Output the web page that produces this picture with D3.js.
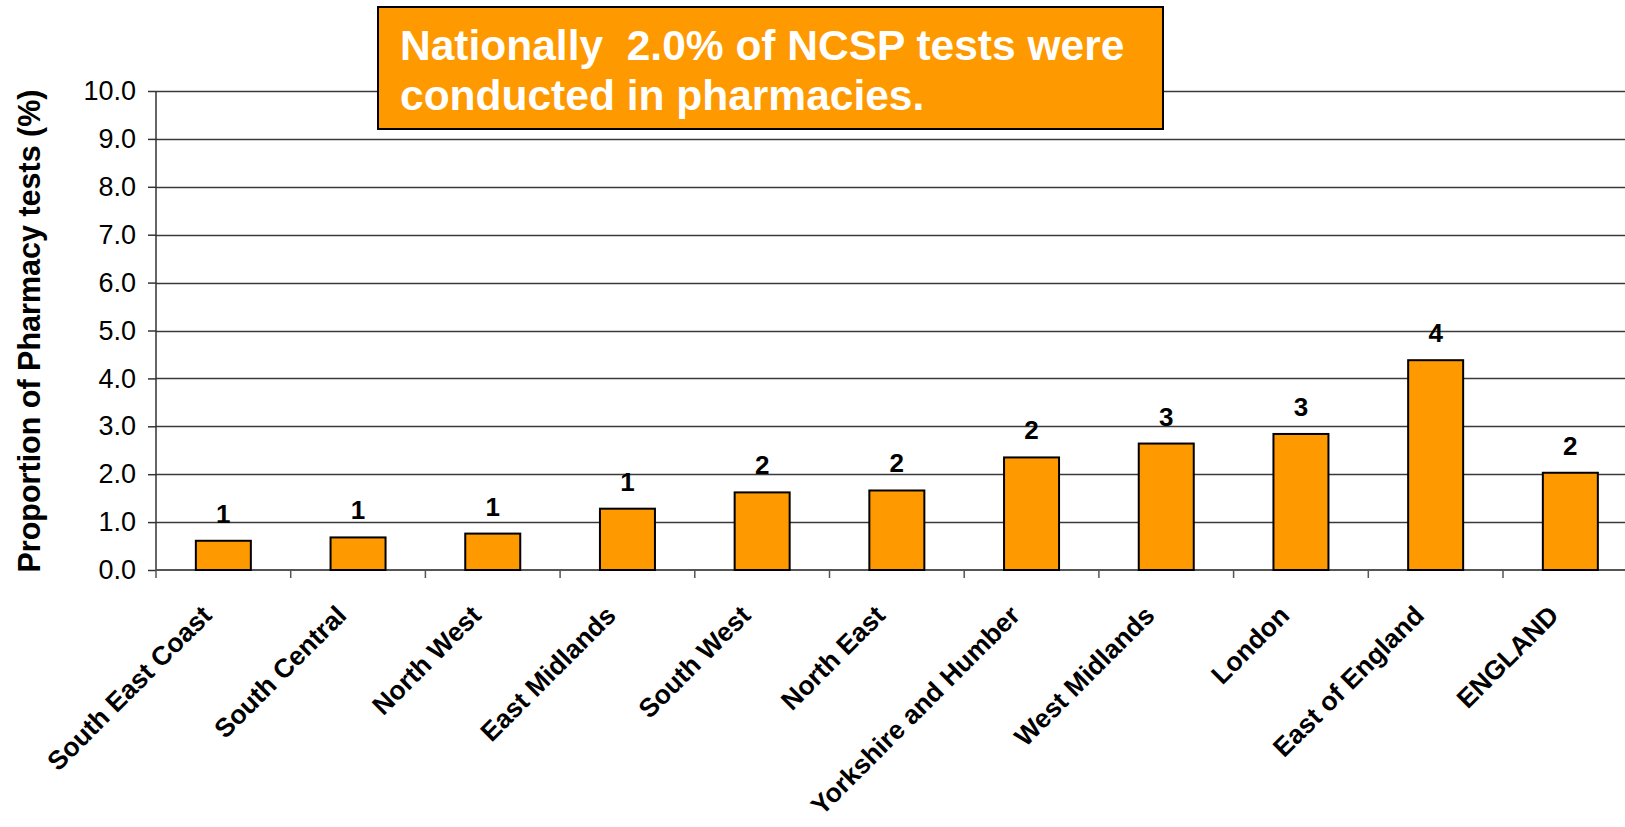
<!DOCTYPE html>
<html>
<head>
<meta charset="utf-8">
<script src="https://cdnjs.cloudflare.com/ajax/libs/d3/7.8.5/d3.min.js"></script>
<style>
  html, body { margin: 0; padding: 0; background: #fff; overflow: hidden; }
  svg { display: block; }
  text { font-family: "Liberation Sans", Arial, Helvetica, sans-serif; }
</style>
</head>
<body>
<svg id="chart" width="1625" height="827"></svg>
<script>
// ---- data ----
const categories = ["South East Coast", "South Central", "North West", "East Midlands", "South West",
  "North East", "Yorkshire and Humber", "West Midlands", "London", "East of England", "ENGLAND"];
const values = [0.61, 0.68, 0.76, 1.28, 1.62, 1.66, 2.35, 2.64, 2.84, 4.38, 2.03];
const valueLabels = ["1", "1", "1", "1", "2", "2", "2", "3", "3", "4", "2"];
const yTicks = [0, 1, 2, 3, 4, 5, 6, 7, 8, 9, 10];
const yTitle = "Proportion of Pharmacy tests (%)";
const noteLines = ["Nationally  2.0% of NCSP tests were", "conducted in pharmacies."];

// ---- layout ----
const svg = d3.select("#chart");
const left = 156, bandW = 134.7;
const x = d3.scaleBand().domain(categories).range([left, left + bandW * categories.length]).padding(0);
const y = d3.scaleLinear().domain([0, 10]).range([570, 91]);
const barW = 55;

// gridlines
svg.append("g").selectAll("line").data(yTicks.filter(d => d > 0)).join("line")
  .attr("x1", left).attr("x2", 1625)
  .attr("y1", d => Math.round(y(d)) + 0.5).attr("y2", d => Math.round(y(d)) + 0.5)
  .attr("stroke", "#3a3a3a").attr("stroke-width", 1.5);

// y axis
const yAxis = d3.axisLeft(y).tickValues(yTicks).tickFormat(d3.format(".1f")).tickSize(8).tickPadding(12);
const gy = svg.append("g").attr("transform", `translate(${left},0)`).call(yAxis);
gy.select(".domain").attr("stroke", "#333").attr("stroke-width", 1.5).attr("d", `M0,${y(10)}V${y(0)}`);
gy.selectAll(".tick line").attr("stroke", "#333").attr("stroke-width", 1.5);
gy.selectAll(".tick text").attr("font-size", 27).attr("fill", "#000")
  .attr("font-family", "'Liberation Sans', Arial, sans-serif");

// x axis baseline and ticks at band boundaries
const boundaries = categories.map(c => x(c)).concat([x(categories[categories.length - 1]) + x.bandwidth()]);
svg.append("line").attr("x1", left).attr("x2", 1625).attr("y1", y(0)).attr("y2", y(0))
  .attr("stroke", "#555").attr("stroke-width", 2);
svg.append("g").selectAll("line").data(boundaries).join("line")
  .attr("x1", d => d).attr("x2", d => d).attr("y1", y(0)).attr("y2", y(0) + 8)
  .attr("stroke", "#555").attr("stroke-width", 1.5);

// bars
svg.append("g").selectAll("rect").data(values).join("rect")
  .attr("x", (d, i) => x(categories[i]) + x.bandwidth() / 2 - barW / 2)
  .attr("y", d => y(d))
  .attr("width", barW)
  .attr("height", d => y(0) - y(d))
  .attr("fill", "#FF9900").attr("stroke", "#000").attr("stroke-width", 2);

// value labels
svg.append("g").selectAll("text").data(values).join("text")
  .attr("x", (d, i) => x(categories[i]) + x.bandwidth() / 2)
  .attr("y", d => y(d) - 18)
  .attr("text-anchor", "middle").attr("font-size", 26).attr("font-weight", "bold").attr("fill", "#000")
  .text((d, i) => valueLabels[i]);

// x labels
svg.append("g").selectAll("text").data(categories).join("text")
  .attr("transform", d => `translate(${x(d) + x.bandwidth() / 2 - 10},617) rotate(-45)`)
  .attr("text-anchor", "end").attr("font-size", 26.5).attr("font-weight", "bold").attr("fill", "#000")
  .text(d => d);

// y title
svg.append("text")
  .attr("transform", "translate(40,331) rotate(-90)")
  .attr("text-anchor", "middle").attr("font-size", 30.5).attr("font-weight", "bold").attr("fill", "#000")
  .text(yTitle);

// annotation box
svg.append("rect").attr("x", 378).attr("y", 7).attr("width", 785).attr("height", 122)
  .attr("fill", "#FF9900").attr("stroke", "#000").attr("stroke-width", 2);
svg.append("g").selectAll("text").data(noteLines).join("text")
  .attr("x", 400).attr("y", (d, i) => 60 + i * 50)
  .attr("font-size", 42.5).attr("font-weight", "bold").attr("fill", "#fff")
  .style("white-space", "pre").attr("xml:space", "preserve")
  .text(d => d);
</script>
</body>
</html>
